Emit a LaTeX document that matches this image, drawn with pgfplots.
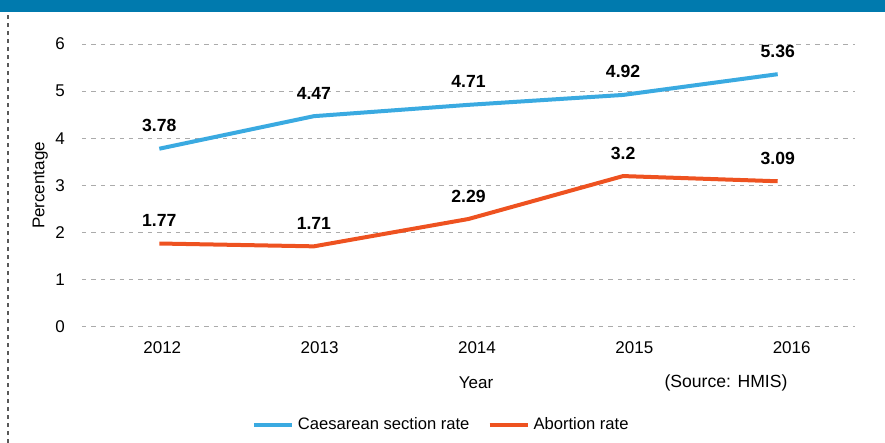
\documentclass[border=0pt]{standalone}
\usepackage{pgfplots}
\pgfplotsset{compat=1.18}
\usepackage{fontspec}
\setmainfont{Liberation Sans}
\definecolor{hdr}{HTML}{007AAE}
\definecolor{cblue}{HTML}{3AAAE1}
\definecolor{corange}{HTML}{EE5220}
\definecolor{gridc}{HTML}{ABABAB}
\begin{document}
\begin{tikzpicture}
\useasboundingbox (0,0) rectangle (442.5pt,221.5pt);
\fill[hdr] (0,215.5pt) rectangle (442.5pt,221.5pt);
\draw[black!65, line width=0.6pt, dash pattern=on 2pt off 2pt] (4pt,0) -- (4pt,215.5pt);
\begin{axis}[
  at={(41pt,58pt)}, anchor=south west,
  scale only axis, width=386.5pt, height=141.5pt,
  xmin=-0.5, xmax=4.5, ymin=0, ymax=6,
  xtick={0,1,2,3,4}, xticklabels={2012,2013,2014,2015,2016},
  ytick={0,1,2,3,4,5,6},
  axis line style={draw=none},
  major tick length=0pt,
  ymajorgrids,
  grid style={gridc, line width=0.5pt, dash pattern=on 2.2pt off 2.5pt},
  ticklabel style={font=\fontsize{8.5}{10}\selectfont},
  /pgf/number format/assume math mode=true,
  yticklabel style={xshift=-5pt},
  xticklabel style={yshift=-4pt, xshift={(1.5+1.375*\ticknum)*1pt}},
  ylabel={Percentage},
  ylabel style={font=\fontsize{8.5}{10}\selectfont, at={(axis description cs:-0.054,0.5)}, anchor=center},
  nodes near coords,
  point meta=explicit symbolic,
  every node near coord/.append style={text=black, font=\bfseries\fontsize{8.8}{10}\selectfont, anchor=center, yshift=11.5pt},
  legend columns=2,
  legend style={at={(0.466,-0.346)}, anchor=center, draw=none, fill=none,
    font=\fontsize{8.3}{10}\selectfont,
    /tikz/every even column/.append style={column sep=7pt}},
  legend image code/.code={\draw[#1, line width=2pt] (0pt,0pt) -- (19pt,0pt);},
  clip=false,
]
\addplot[cblue, line width=2pt, no marks] coordinates {
  (0,3.78)[3.78] (1,4.47)[4.47] (2,4.71)[4.71] (3,4.92)[4.92] (4,5.36)[5.36]};
\addlegendentry{Caesarean section rate}
\addplot[corange, line width=2pt, no marks] coordinates {
  (0,1.77)[1.77] (1,1.71)[1.71] (2,2.29)[2.29] (3,3.2)[3.2] (4,3.09)[3.09]};
\addlegendentry{Abortion rate}
\end{axis}
\node[font=\fontsize{8.5}{10}\selectfont] at (238pt,30pt) {Year};
\node[font=\fontsize{8.8}{10}\selectfont] at (363pt,30pt) {(Source: HMIS)};
\end{tikzpicture}
\end{document}
